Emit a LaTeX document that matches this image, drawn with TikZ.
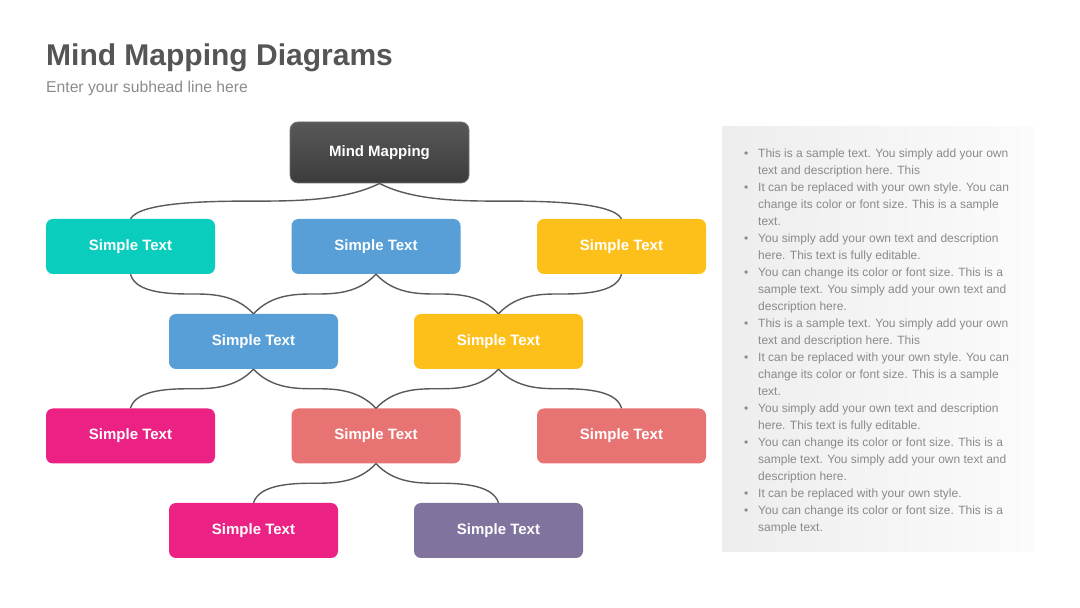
\documentclass[tikz,border=0pt]{standalone}
\usepackage{fontspec}
\setmainfont{Liberation Sans}
\usetikzlibrary{calc}
\definecolor{titlegray}{HTML}{555555}
\definecolor{subgray}{HTML}{8C8C8C}
\definecolor{notegray}{HTML}{8A8A8A}
\definecolor{linkgray}{HTML}{5A5A5A}
\definecolor{mmtop}{HTML}{585858}
\definecolor{mmbot}{HTML}{3C3C3C}
\definecolor{cteal}{HTML}{0BCDBD}
\definecolor{cblue}{HTML}{579FD6}
\definecolor{cyellow}{HTML}{FDC01A}
\definecolor{cmagenta}{HTML}{EC2184}
\definecolor{csalmon}{HTML}{E87373}
\definecolor{cpurple}{HTML}{80739D}
% #1 upper node, #2 lower node, #3/#4 steepness fraction at upper/lower end
\newcommand\lnk[4]{\draw[conn] let \p1=(#1.south), \p2=(#2.north), \p3=($(\p1)!.5!(\p2)$) in
  (\p1) .. controls (\x1+#3*\x3-#3*\x1, \y3) and (\x1+0.7*\x3-0.7*\x1, \y3) .. (\p3)
        .. controls (\x2+0.7*\x3-0.7*\x2, \y3) and (\x2+#4*\x3-#4*\x2, \y3) .. (\p2);}
\newcommand\bul{\makebox[14pt][l]{•}}
\newcommand\ind{\hspace*{14pt}}
\begin{document}
\begin{tikzpicture}[x=1pt,y=1pt,
  box/.style={rounded corners=7pt, minimum width=169pt, minimum height=55pt, inner sep=0pt,
    text=white, font=\fontsize{15}{18}\selectfont\bfseries},
  conn/.style={draw=linkgray, line width=1.4pt},
  notes/.style={align=left, inner sep=0pt, text=notegray, font=\fontsize{12}{17}\selectfont}]
\useasboundingbox (0,0) rectangle (1080,608);
\fill[white] (0,0) rectangle (1080,608);
% title
\node[anchor=base west, inner sep=0pt, text=titlegray, font=\fontsize{30}{34}\selectfont\bfseries] (title) at (46,542) {Mind Mapping Diagrams};
\node[anchor=base west, inner sep=0pt, text=subgray, font=\fontsize{15.7}{18}\selectfont] (sub) at (46,515) {Enter your subhead line here};
% panel
\node[shade, left color=black!7, right color=black!1.5, minimum width=312pt, minimum height=425pt, inner sep=0pt] (panel) at (878,268.5) {};
% nodes
\node[box, rounded corners=8pt, minimum width=179pt, minimum height=61pt, top color=mmtop, bottom color=mmbot, draw=black!55, line width=0.8pt] (mm) at (379.5,455.5) {Mind Mapping};
\node[box, fill=cteal] (r1a) at (130.5,361.5) {Simple Text};
\node[box, fill=cblue] (r1b) at (376,361.5) {Simple Text};
\node[box, fill=cyellow] (r1c) at (621.5,361.5) {Simple Text};
\node[box, fill=cblue] (r2a) at (253.5,266.5) {Simple Text};
\node[box, fill=cyellow] (r2b) at (498.5,266.5) {Simple Text};
\node[box, fill=cmagenta] (r3a) at (130.5,172) {Simple Text};
\node[box, fill=csalmon] (r3b) at (376,172) {Simple Text};
\node[box, fill=csalmon] (r3c) at (621.5,172) {Simple Text};
\node[box, fill=cmagenta] (r4a) at (253.5,77.5) {Simple Text};
\node[box, fill=cpurple] (r4b) at (498.5,77.5) {Simple Text};
% links
\lnk{mm}{r1a}{0.28}{0.08}
\lnk{mm}{r1c}{0.28}{0.08}
\lnk{r1a}{r2a}{0.08}{0.3}
\lnk{r1b}{r2a}{0.3}{0.3}
\lnk{r1b}{r2b}{0.3}{0.3}
\lnk{r1c}{r2b}{0.08}{0.3}
\lnk{r2a}{r3a}{0.3}{0.08}
\lnk{r2a}{r3b}{0.3}{0.3}
\lnk{r2b}{r3b}{0.3}{0.3}
\lnk{r2b}{r3c}{0.3}{0.08}
\lnk{r3b}{r4a}{0.3}{0.1}
\lnk{r3b}{r4b}{0.3}{0.1}
% notes
\node[notes, anchor=north west] (notes) at (744,459) {%
\bul This is a sample text. You simply add your own\\
\ind text and description here. This\\
\bul It can be replaced with your own style. You can\\
\ind change its color or font size. This is a sample\\
\ind text.\\
\bul You simply add your own text and description\\
\ind here. This text is fully editable.\\
\bul You can change its color or font size. This is a\\
\ind sample text. You simply add your own text and\\
\ind description here.\\
\bul This is a sample text. You simply add your own\\
\ind text and description here. This\\
\bul It can be replaced with your own style. You can\\
\ind change its color or font size. This is a sample\\
\ind text.\\
\bul You simply add your own text and description\\
\ind here. This text is fully editable.\\
\bul You can change its color or font size. This is a\\
\ind sample text. You simply add your own text and\\
\ind description here.\\
\bul It can be replaced with your own style.\\
\bul You can change its color or font size. This is a\\
\ind sample text.};
\end{tikzpicture}
\end{document}
